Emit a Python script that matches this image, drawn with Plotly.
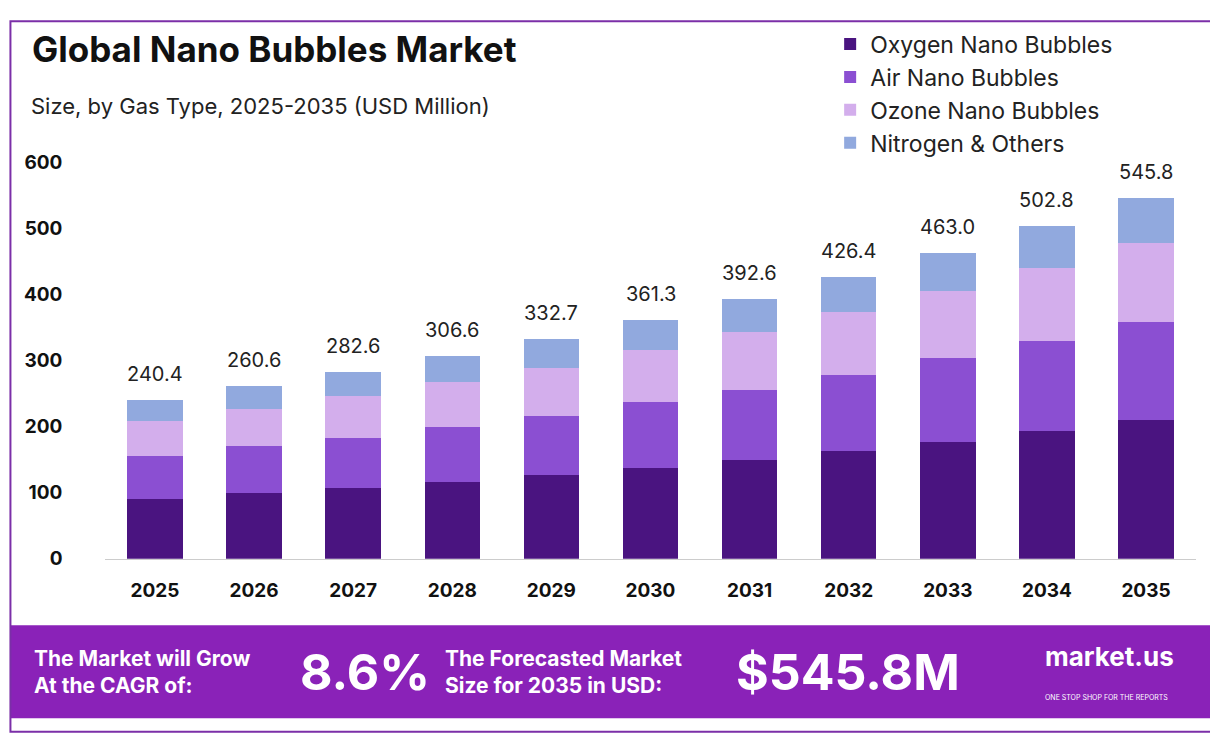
import plotly.graph_objects as go

years = ["2025","2026","2027","2028","2029","2030","2031","2032","2033","2034","2035"]
oxygen = [91, 100, 107.6, 116.7, 127, 137.9, 150, 163.6, 177.3, 194, 210.6]
air = [65, 70, 75.7, 83.3, 89.5, 98.5, 106, 115, 125.8, 134.8, 147]
ozone = [53, 57, 62.4, 66.7, 72.7, 78.8, 86.4, 94, 101.5, 110.6, 120]
nitrogen = [31.4, 33.6, 36.9, 39.9, 43.5, 46.1, 50.2, 53.8, 58.4, 63.4, 68.2]
totals = [240.4, 260.6, 282.6, 306.6, 332.7, 361.3, 392.6, 426.4, 463.0, 502.8, 545.8]

F = "Inter, Open Sans, sans-serif"
fig = go.Figure()
for name, vals, col in [("Oxygen Nano Bubbles", oxygen, "#4A1480"),
                        ("Air Nano Bubbles", air, "#8B4FD2"),
                        ("Ozone Nano Bubbles", ozone, "#D3AEEC"),
                        ("Nitrogen & Others", nitrogen, "#91A9DE")]:
    fig.add_trace(go.Bar(x=years, y=vals, name=name, marker_color=col, marker_line_width=0, width=0.56))

ann = []
for i, t in enumerate(totals):
    ann.append(dict(x=i, y=t, xref="x", yref="y", text=f"{t:.1f}", showarrow=False, yanchor="bottom", yshift=12,
                    font=dict(size=20, color="#222", family=F)))
fig.update_layout(
    barmode="stack", width=1218, height=738, paper_bgcolor="white", plot_bgcolor="white",
    margin=dict(l=0, r=0, t=0, b=0), font=dict(family=F),
    xaxis=dict(type="category", domain=[0.08, 0.975], tickfont=dict(size=19, color="#111", family=F, weight="bold"),
               showline=True, linecolor="#ccc", ticks="", ticklabelstandoff=14),
    yaxis=dict(domain=[0.245, 0.80], range=[0, 600], dtick=100, showgrid=False,
               tickfont=dict(size=19, color="#111", family=F, weight="bold"), ticklabelstandoff=42),
    legend=dict(x=0.675, y=0.995, xanchor="left", yanchor="top", traceorder="normal",
                font=dict(size=23, color="#222", family=F), itemwidth=30, tracegroupgap=0),
    shapes=[dict(type="rect", xref="paper", yref="paper", x0=0.002, x1=0.998, y0=0.003, y1=0.997,
                 line=dict(color="#7B2FA8", width=2)),
            dict(type="rect", xref="paper", yref="paper", x0=0.002, x1=0.998, y0=0.022, y1=0.152,
                 fillcolor="#8A22B8", line_width=0, layer="below")],
    annotations=ann + [
        dict(text="<b>Global Nano Bubbles Market</b>", x=0.018, y=0.99, xref="paper", yref="paper",
             xanchor="left", yanchor="top", showarrow=False, font=dict(size=35, color="#111", family=F)),
        dict(text="Size, by Gas Type, 2025-2035 (USD Million)", x=0.017, y=0.9, xref="paper", yref="paper",
             xanchor="left", yanchor="top", showarrow=False, font=dict(size=22, color="#222", family=F)),
        dict(text="<b>The Market will Grow<br>At the CAGR of:</b>", x=0.02, y=0.087, xref="paper", yref="paper",
             xanchor="left", yanchor="middle", align="left", showarrow=False, font=dict(size=21, color="white", family=F)),
        dict(text="<b>8.6%</b>", x=0.238, y=0.087, xref="paper", yref="paper", xanchor="left", yanchor="middle",
             showarrow=False, font=dict(size=50, color="white", family=F)),
        dict(text="<b>The Forecasted Market<br>Size for 2035 in USD:</b>", x=0.357, y=0.087, xref="paper", yref="paper",
             xanchor="left", yanchor="middle", align="left", showarrow=False, font=dict(size=21, color="white", family=F)),
        dict(text="<b>$545.8M</b>", x=0.596, y=0.087, xref="paper", yref="paper", xanchor="left", yanchor="middle",
             showarrow=False, font=dict(size=50, color="white", family=F)),
        dict(text="<b>market.us</b><br><span style='font-size:7px'>ONE STOP SHOP FOR THE REPORTS</span>",
             x=0.85, y=0.087, xref="paper", yref="paper", xanchor="left", yanchor="middle", align="left",
             showarrow=False, font=dict(size=26, color="white", family=F)),
    ],
)
fig.write_html("out.html")
